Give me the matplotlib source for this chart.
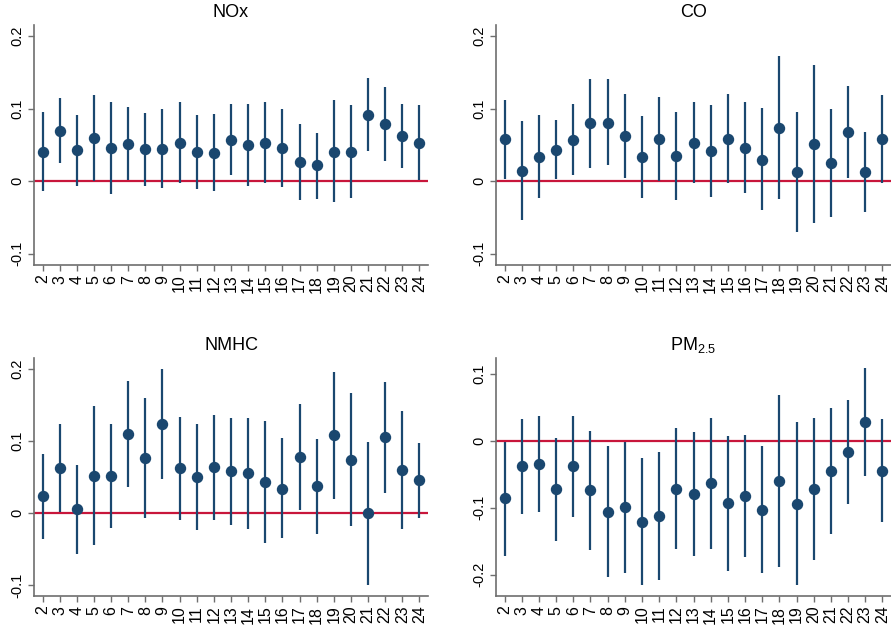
import numpy as np
import matplotlib
matplotlib.use('Agg')
import matplotlib.pyplot as plt

plt.rcParams['font.family'] = ['Liberation Sans', 'DejaVu Sans']
plt.rcParams['mathtext.fontset'] = 'custom'
plt.rcParams['mathtext.rm'] = 'Liberation Sans'
plt.rcParams['mathtext.it'] = 'Liberation Sans:italic'

hours = list(range(2, 25))

nox_est = [0.040, 0.070, 0.043, 0.060, 0.046, 0.052, 0.044, 0.045, 0.053, 0.040, 0.039, 0.057,
           0.050, 0.053, 0.046, 0.027, 0.022, 0.041, 0.041, 0.092, 0.079, 0.062, 0.053]
nox_hi = [0.095, 0.115, 0.092, 0.119, 0.109, 0.103, 0.094, 0.100, 0.109, 0.092, 0.093, 0.107,
          0.107, 0.109, 0.100, 0.079, 0.067, 0.112, 0.105, 0.143, 0.130, 0.107, 0.105]
nox_lo = [-0.013, 0.025, -0.006, 0.001, -0.017, 0.002, -0.006, -0.009, -0.002, -0.010, -0.014, 0.008,
          -0.006, -0.002, -0.008, -0.026, -0.024, -0.028, -0.023, 0.042, 0.028, 0.019, 0.002]

co_est = [0.058, 0.014, 0.034, 0.043, 0.057, 0.080, 0.081, 0.062, 0.034, 0.059, 0.035, 0.053,
          0.042, 0.059, 0.046, 0.029, 0.074, 0.013, 0.051, 0.025, 0.068, 0.013, 0.059]
co_hi = [0.112, 0.083, 0.091, 0.085, 0.106, 0.141, 0.141, 0.121, 0.090, 0.116, 0.096, 0.109,
         0.105, 0.120, 0.109, 0.101, 0.173, 0.096, 0.160, 0.100, 0.132, 0.068, 0.119]
co_lo = [0.003, -0.054, -0.023, 0.003, 0.009, 0.019, 0.022, 0.004, -0.023, 0.001, -0.026, -0.003,
         -0.021, -0.002, -0.016, -0.040, -0.024, -0.070, -0.057, -0.049, 0.004, -0.042, -0.002]

nmhc_est = [0.024, 0.063, 0.006, 0.052, 0.052, 0.109, 0.076, 0.123, 0.062, 0.050, 0.064, 0.058,
            0.055, 0.043, 0.034, 0.078, 0.037, 0.108, 0.074, 0.000, 0.106, 0.059, 0.046]
nmhc_hi = [0.082, 0.123, 0.067, 0.148, 0.124, 0.183, 0.160, 0.199, 0.133, 0.124, 0.136, 0.132,
           0.132, 0.127, 0.104, 0.151, 0.103, 0.196, 0.166, 0.098, 0.182, 0.141, 0.097]
nmhc_lo = [-0.036, 0.002, -0.056, -0.044, -0.021, 0.036, -0.007, 0.047, -0.009, -0.024, -0.009, -0.016,
           -0.022, -0.041, -0.035, 0.004, -0.029, 0.019, -0.018, -0.100, 0.028, -0.022, -0.007]

pm_est = [-0.086, -0.038, -0.034, -0.072, -0.038, -0.074, -0.107, -0.099, -0.121, -0.113, -0.072, -0.079,
          -0.063, -0.093, -0.082, -0.103, -0.060, -0.094, -0.072, -0.045, -0.017, 0.028, -0.045]
pm_hi = [-0.001, 0.033, 0.037, 0.005, 0.037, 0.015, -0.008, -0.001, -0.025, -0.016, 0.019, 0.014,
         0.034, 0.008, 0.009, -0.007, 0.068, 0.028, 0.035, 0.049, 0.061, 0.109, 0.033]
pm_lo = [-0.172, -0.110, -0.106, -0.149, -0.114, -0.163, -0.204, -0.197, -0.216, -0.208, -0.162, -0.172,
         -0.161, -0.194, -0.174, -0.198, -0.188, -0.216, -0.178, -0.139, -0.095, -0.052, -0.122]

navy = '#1a476f'
red = '#c8163b'
spine = '#6e6e6e'

W, H = 891, 626
fig = plt.figure(figsize=(W / 100, H / 100), dpi=100)

panels = [
    ('NOx', nox_est, nox_lo, nox_hi, (34, 25, 428, 265), (-0.1155, 0.2156), [-0.1, 0, 0.1, 0.2]),
    ('CO', co_est, co_lo, co_hi, (496, 25, 891, 265), (-0.1155, 0.2156), [-0.1, 0, 0.1, 0.2]),
    ('NMHC', nmhc_est, nmhc_lo, nmhc_hi, (34, 358, 428, 596), (-0.1148, 0.2147), [-0.1, 0, 0.1, 0.2]),
    (r'PM$_{\mathregular{2.5}}$', pm_est, pm_lo, pm_hi, (496, 358, 891, 596), (-0.232, 0.124), [-0.2, -0.1, 0, 0.1]),
]

for title, est, lo, hi, (x0, y0, x1, y1), ylim, yticks in panels:
    ax = fig.add_axes([x0 / W, 1 - y1 / H, (x1 - x0) / W, (y1 - y0) / H])
    ax.axhline(0, color=red, lw=1.6, zorder=1)
    ax.vlines(hours, lo, hi, color=navy, lw=1.6, zorder=2)
    ax.plot(hours, est, 'o', color=navy, ms=7.2, zorder=3)
    ax.set_xlim(1.5, 24.5)
    ax.set_ylim(*ylim)
    ax.set_xticks(hours)
    ax.set_xticklabels([str(h) for h in hours], rotation=90)
    ax.set_yticks(yticks)
    ax.set_yticklabels(['0' if t == 0 else f'{t:g}' for t in yticks], rotation=90, va='center')
    ax.tick_params(axis='x', labelsize=11.5, length=4, width=1, color=spine, pad=3)
    ax.tick_params(axis='y', labelsize=10.5, length=4, width=1, color=spine, pad=3)
    for s in ['top', 'right']:
        ax.spines[s].set_visible(False)
    for s in ['left', 'bottom']:
        ax.spines[s].set_color(spine)
        ax.spines[s].set_linewidth(1.2)
    ax.set_title(title, fontsize=13, pad=6)

fig.savefig('out.png', dpi=100)
